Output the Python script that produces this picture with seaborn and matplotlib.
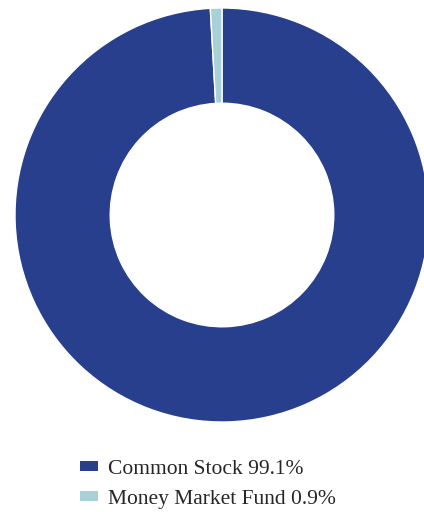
import matplotlib.pyplot as plt
import seaborn as sns
from matplotlib.patches import Patch

# Datos de la cartera
categorias = ['Common Stock', 'Money Market Fund']
porcentajes = [99.1, 0.9]
colores = ['#283F8D', '#A7D0D7']

sns.set_style('white')
plt.rcParams['font.family'] = ['Liberation Serif', 'DejaVu Serif']

fig = plt.figure(figsize=(4.24, 5.12), dpi=100)
# centro (222, 215) px, radio 207 px
ax = fig.add_axes([(222 - 207) / 424, (297 - 207) / 512, 414 / 424, 414 / 512])
ax.pie(porcentajes, colors=colores, startangle=90, counterclock=False,
       wedgeprops=dict(width=0.46, edgecolor='white', linewidth=1))
ax.set_xlim(-1, 1)
ax.set_ylim(-1, 1)
ax.set_aspect('equal')
ax.axis('off')

handles = [Patch(facecolor=c, edgecolor='none') for c in colores]
etiquetas = [f'{c} {p}%' for c, p in zip(categorias, porcentajes)]
fig.legend(handles, etiquetas, loc='upper left', bbox_to_anchor=(80 / 424, 1 - 460 / 512),
           frameon=False, fontsize=15.5, borderpad=0, borderaxespad=0,
           handlelength=0.85, handleheight=0.33,
           handletextpad=0.45, labelspacing=0.5)

fig.savefig('out.png', dpi=100)
